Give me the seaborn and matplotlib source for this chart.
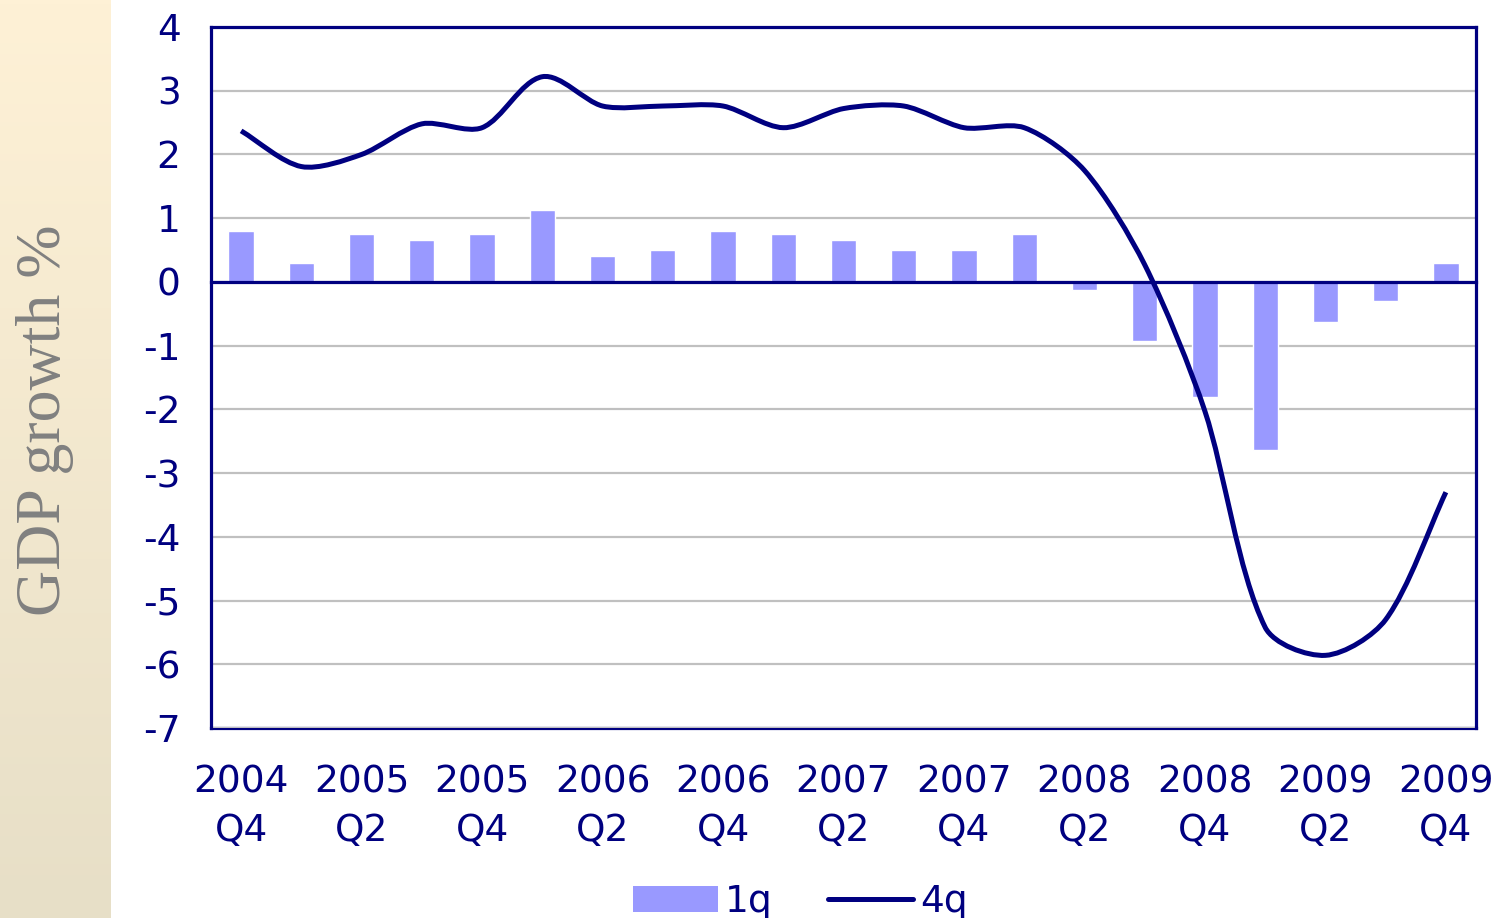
import numpy as np
import matplotlib
matplotlib.use("Agg")
import matplotlib.pyplot as plt
from matplotlib.path import Path
from matplotlib.patches import PathPatch, Patch
from matplotlib.lines import Line2D
import seaborn as sns

# quarterly GDP growth, 2004 Q4 .. 2009 Q4
quarters = ["2004 Q4", "2005 Q1", "2005 Q2", "2005 Q3", "2005 Q4",
            "2006 Q1", "2006 Q2", "2006 Q3", "2006 Q4",
            "2007 Q1", "2007 Q2", "2007 Q3", "2007 Q4",
            "2008 Q1", "2008 Q2", "2008 Q3", "2008 Q4",
            "2009 Q1", "2009 Q2", "2009 Q3", "2009 Q4"]
growth_1q = [0.8, 0.3, 0.75, 0.65, 0.75, 1.13, 0.4, 0.5, 0.8, 0.75, 0.65,
             0.5, 0.5, 0.75, -0.13, -0.92, -1.8, -2.64, -0.63, -0.3, 0.3]
growth_4q = [2.37, 1.81, 2.0, 2.48, 2.42, 3.22, 2.76, 2.76, 2.76, 2.42, 2.72,
             2.76, 2.42, 2.42, 1.75, 0.27, -2.03, -5.42, -5.86, -5.3, -3.3]
xlabels = ["2004\nQ4", "2005\nQ2", "2005\nQ4", "2006\nQ2", "2006\nQ4", "2007\nQ2",
           "2007\nQ4", "2008\nQ2", "2008\nQ4", "2009\nQ2", "2009\nQ4"]
yticks = list(range(-7, 5))

navy = "#000080"
bar_col = "#9999FF"
grid_col = "#C0C0C0"

sns.set_style("white")
plt.rcParams["font.family"] = ["DejaVu Sans"]
plt.rcParams["axes.unicode_minus"] = False

fig = plt.figure(figsize=(14.99, 9.18), dpi=100)

# left side band with the vertical title
band = fig.add_axes([0, 0, 111 / 1499, 1])
grad = np.linspace(0, 1, 256)[:, None, None]
top_c = np.array([254, 241, 214]) / 255
bot_c = np.array([231, 223, 199]) / 255
band.imshow(top_c + (bot_c - top_c) * grad, aspect="auto", extent=[0, 1, 0, 1])
band.axis("off")
fig.text(45 / 1499, 1 - 420 / 918, "GDP growth %", rotation=90, ha="center", va="center",
         family="Liberation Serif", color="#808080", fontsize=46)

ax = fig.add_axes([211 / 1499, 1 - 728 / 918, (1476 - 211) / 1499, (728 - 27) / 918])
sns.barplot(x=quarters, y=growth_1q, color=bar_col, saturation=1, width=0.42, ax=ax, zorder=2)

# smoothed 4q line: bezier through the points, handle length tied to segment length
n = len(growth_4q)
yscale = 63.7 / 60.24  # pixels per y unit / pixels per category
pts = np.column_stack([np.arange(n), np.array(growth_4q) * yscale])
tang = []
for i in range(n):
    d = pts[min(i + 1, n - 1)] - pts[max(i - 1, 0)]
    tang.append(d / np.linalg.norm(d))
k = 0.28
verts = [pts[0]]
codes = [Path.MOVETO]
for i in range(n - 1):
    seg = np.linalg.norm(pts[i + 1] - pts[i])
    verts += [pts[i] + tang[i] * seg * k, pts[i + 1] - tang[i + 1] * seg * k, pts[i + 1]]
    codes += [Path.CURVE4] * 3
verts = np.array(verts)
verts[:, 1] /= yscale
ax.add_patch(PathPatch(Path(verts, codes), fill=False, edgecolor=navy, lw=3.6,
                       capstyle="butt", joinstyle="round", zorder=4))

ax.set_xlim(-0.5, n - 0.5)
ax.set_ylim(-7, 4)
ax.set_yticks(yticks)
ax.yaxis.grid(True, color=grid_col, lw=1.6)
ax.set_axisbelow(True)
ax.set_xlabel("")

for s in ["top", "left", "right", "bottom"]:
    ax.spines[s].set_color(navy)
    ax.spines[s].set_linewidth(2.3)
ax.spines["bottom"].set_position(("data", 0))
ax.spines["bottom"].set_zorder(5)

ax.set_xticks([])
ax.set_xticks(np.arange(n - 1) + 0.5, minor=True)
ax.tick_params(axis="x", which="minor", direction="out", length=8, width=2, color=navy)
ax.tick_params(axis="y", direction="out", length=8, width=2.3, color=navy,
               labelcolor=navy, labelsize=27, pad=14)

sec = ax.secondary_xaxis("bottom")
sec.set_xticks(range(0, n, 2), labels=xlabels)
sec.tick_params(length=0, pad=26, labelcolor=navy, labelsize=27)
for lab in sec.get_xticklabels():
    lab.set_linespacing(1.45)
sec.spines["bottom"].set_color(navy)
sec.spines["bottom"].set_linewidth(2.3)

handles = [Patch(facecolor=bar_col, edgecolor="none", label="1q"),
           Line2D([], [], color=navy, lw=3.6, label="4q")]
fig.legend(handles=handles, loc="center", bbox_to_anchor=(800 / 1499, 1 - 902 / 918),
           ncol=2, frameon=False, fontsize=27, handlelength=2.27, handleheight=0.72,
           handletextpad=0.19, columnspacing=1.47, labelcolor=navy)

fig.savefig("out.png", dpi=100)
